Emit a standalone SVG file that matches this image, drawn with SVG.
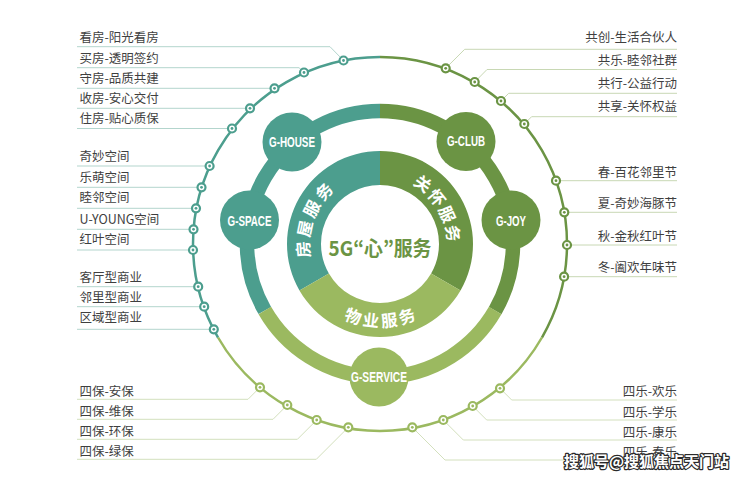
<svg xmlns="http://www.w3.org/2000/svg" xmlns:xlink="http://www.w3.org/1999/xlink" width="740" height="478" viewBox="0 0 740 478">
<style>
.lbl{font-family:"Noto Sans CJK SC","Noto Sans",sans-serif;font-size:12.5px;fill:#3f3f3f}
.r{text-anchor:end}
.lt{fill:none;stroke:#b3d5cd;stroke-width:1}
.lg{fill:none;stroke:#c8d8b4;stroke-width:1}
.ll{fill:none;stroke:#d3e0bd;stroke-width:1}
.nt{font-family:"Liberation Sans",Arial,sans-serif;font-weight:bold;font-size:14.5px;fill:#fff;text-anchor:middle;dominant-baseline:central}
.rt{font-family:"Noto Sans CJK SC",sans-serif;font-weight:bold;font-size:16.5px;fill:#fff;text-anchor:middle;dominant-baseline:central}
.wm{font-family:"Noto Sans CJK SC",sans-serif;font-weight:bold;font-size:15px;fill:#fff;stroke:#2a2a2a;stroke-width:2.4;paint-order:stroke;stroke-linejoin:round}
</style>
<defs>
<g id="dT"><circle r="4" fill="#fff" stroke="#4c9e8e" stroke-width="2.2"/><circle r="1.4" fill="#4c9e8e"/></g>
<g id="dG"><circle r="4" fill="#fff" stroke="#6b9444" stroke-width="2.2"/><circle r="1.4" fill="#6b9444"/></g>
<g id="dL"><circle r="4" fill="#fff" stroke="#9bb960" stroke-width="2.2"/><circle r="1.4" fill="#9bb960"/></g>
</defs>
<rect width="740" height="478" fill="#fff"/>

<!-- connectors: leader lines -->
<g id="connectors">
<polyline class="lt" points="77,46.7 330,46.7 343.5,60.5"/>
<polyline class="lt" points="77,67.7 299,67.7 304,72.5"/>
<polyline class="lt" points="77,88.3 274.5,88.3"/>
<polyline class="lt" points="77,108.3 250,108.3"/>
<polyline class="lt" points="77,128.5 232,128.5"/>
<polyline class="lt" points="77,166 209.6,166"/>
<polyline class="lt" points="77,187.3 201.5,187.3"/>
<polyline class="lt" points="77,208.3 196,208.3"/>
<polyline class="lt" points="77,229.3 193.5,229.3"/>
<polyline class="lt" points="77,250 193,250"/>
<polyline class="lt" points="77,286.7 198.2,286.7"/>
<polyline class="lt" points="77,306.7 204.2,306.7"/>
<polyline class="lt" points="77,329.3 213.8,329.3"/>
<polyline class="ll" points="77,399.3 248,399.3 260,387.3"/>
<polyline class="ll" points="77,419.3 273,419.3 287.3,405"/>
<polyline class="ll" points="77,439.3 297.4,439.3 316.7,420"/>
<polyline class="ll" points="77,459.3 316.3,459.3 348.3,427.3"/>
<polyline class="lg" points="677,49.3 464.7,49.3 445.7,68.3"/>
<polyline class="lg" points="677,69.5 487,69.5 474.7,82"/>
<polyline class="lg" points="677,93.3 508.7,93.3 501,101"/>
<polyline class="lg" points="677,116.7 531.6,116.7 524.3,124"/>
<polyline class="lg" points="677,180.7 556,180.7"/>
<polyline class="lg" points="677,212.3 564.3,212.3"/>
<polyline class="lg" points="677,245 567,245"/>
<polyline class="lg" points="677,276.7 564.1,276.7"/>
<polyline class="ll" points="677,400 511.7,400 500,388.3"/>
<polyline class="ll" points="677,420 486.7,420 472.7,406"/>
<polyline class="ll" points="677,440 463.3,440 443.3,420"/>
<polyline class="ll" points="677,460 445,460 412.3,427.3"/>
</g>

<!-- outer ring -->
<g id="outer-ring" fill="none" stroke-width="2.5">
<path d="M218.05,337.5 A187,187 0 0 1 380,57" stroke="#4c9e8e"/>
<path d="M380,57 A187,187 0 0 1 541.95,337.5" stroke="#6b9444"/>
<path d="M541.95,337.5 A187,187 0 0 1 218.05,337.5" stroke="#9bb960"/>
</g>

<g id="outer-dots">
<use xlink:href="#dT" x="343.5" y="60.5"/>
<use xlink:href="#dT" x="304" y="72.5"/>
<use xlink:href="#dT" x="274.5" y="88.3"/>
<use xlink:href="#dT" x="250" y="108.3"/>
<use xlink:href="#dT" x="232" y="128.5"/>
<use xlink:href="#dT" x="209.6" y="166"/>
<use xlink:href="#dT" x="201.5" y="187.3"/>
<use xlink:href="#dT" x="196" y="208.3"/>
<use xlink:href="#dT" x="193.5" y="229.3"/>
<use xlink:href="#dT" x="193" y="250"/>
<use xlink:href="#dT" x="198.2" y="286.7"/>
<use xlink:href="#dT" x="204.2" y="306.7"/>
<use xlink:href="#dT" x="213.8" y="329.3"/>
<use xlink:href="#dL" x="260" y="387.3"/>
<use xlink:href="#dL" x="287.3" y="405"/>
<use xlink:href="#dL" x="316.7" y="420"/>
<use xlink:href="#dL" x="348.3" y="427.3"/>
<use xlink:href="#dL" x="412.3" y="427.3"/>
<use xlink:href="#dL" x="443.3" y="420"/>
<use xlink:href="#dL" x="472.7" y="406"/>
<use xlink:href="#dL" x="500" y="388.3"/>
<use xlink:href="#dG" x="445.7" y="68.3"/>
<use xlink:href="#dG" x="474.7" y="82"/>
<use xlink:href="#dG" x="501" y="101"/>
<use xlink:href="#dG" x="524.3" y="124"/>
<use xlink:href="#dG" x="556" y="180.7"/>
<use xlink:href="#dG" x="564.3" y="212.3"/>
<use xlink:href="#dG" x="567" y="245"/>
<use xlink:href="#dG" x="564.1" y="276.7"/>
</g>

<!-- labels -->
<g id="labels-left" class="lbl">
<text x="79.5" y="42">看房-阳光看房</text>
<text x="79.5" y="62.7">买房-透明签约</text>
<text x="79.5" y="82.5">守房-品质共建</text>
<text x="79.5" y="102.7">收房-安心交付</text>
<text x="79.5" y="122.7">住房-贴心质保</text>
<text x="79.5" y="160.8">奇妙空间</text>
<text x="79.5" y="181.5">乐萌空间</text>
<text x="79.5" y="202">睦邻空间</text>
<text x="79.5" y="224">U-YOUNG空间</text>
<text x="79.5" y="244">红叶空间</text>
<text x="79.5" y="281.7">客厅型商业</text>
<text x="79.5" y="301.5">邻里型商业</text>
<text x="79.5" y="321.5">区域型商业</text>
<text x="79.5" y="395.8">四保-安保</text>
<text x="79.5" y="416">四保-维保</text>
<text x="79.5" y="435.8">四保-环保</text>
<text x="79.5" y="455.8">四保-绿保</text>
</g>
<g id="labels-right" class="lbl r">
<text x="677" y="42">共创-生活合伙人</text>
<text x="677" y="65.3">共乐-睦邻社群</text>
<text x="677" y="87.6">共行-公益行动</text>
<text x="677" y="111">共享-关怀权益</text>
<text x="677" y="177.3">春-百花邻里节</text>
<text x="677" y="208">夏-奇妙海豚节</text>
<text x="677" y="240.8">秋-金秋红叶节</text>
<text x="677" y="272">冬-阖欢年味节</text>
<text x="677" y="395.5">四乐-欢乐</text>
<text x="677" y="416.5">四乐-学乐</text>
<text x="677" y="436.5">四乐-康乐</text>
<text x="677" y="456.5">四乐-春乐</text>
</g>

<!-- middle ring -->
<g id="middle-ring" fill="none" stroke-width="14.5">
<path d="M264.82,310.5 A133,133 0 0 1 380,111" stroke="#4c9e8e"/>
<path d="M380,111 A133,133 0 0 1 495.18,310.5" stroke="#6b9444"/>
<path d="M495.18,310.5 A133,133 0 0 1 264.82,310.5" stroke="#9bb960"/>
</g>

<!-- inner ring -->
<g id="inner-ring">
<path d="M299.46,290.5 A93,93 0 0 1 380,151 L380,185 A59,59 0 0 0 328.9,273.5 Z" fill="#4c9e8e"/>
<path d="M380,151 A93,93 0 0 1 460.54,290.5 L431.1,273.5 A59,59 0 0 0 380,185 Z" fill="#6b9444"/>
<path d="M460.54,290.5 A93,93 0 0 1 299.46,290.5 L328.9,273.5 A59,59 0 0 0 431.1,273.5 Z" fill="#9bb960"/>
<g class="rt">
<text transform="translate(302.5,249.4) rotate(266)">房</text>
<text transform="translate(304,228.4) rotate(281.7)">屋</text>
<text transform="translate(311.2,208.4) rotate(297.4)">服</text>
<text transform="translate(323.5,191.3) rotate(313)">务</text>
<text transform="translate(423.3,183.2) rotate(35.5)">关</text>
<text transform="translate(437.3,197.2) rotate(50.8)">怀</text>
<text transform="translate(447.7,214) rotate(66.1)">服</text>
<text transform="translate(453.7,233) rotate(81.4)">务</text>
<text transform="translate(353.5,315.5) rotate(20.5)">物</text>
<text transform="translate(371,319.5) rotate(6.8)">业</text>
<text transform="translate(389,319.5) rotate(-6.8)">服</text>
<text transform="translate(406.5,315.5) rotate(-20.5)">务</text>
</g>
</g>

<g id="center">
<text x="380" y="246.7" text-anchor="middle" dominant-baseline="central" font-family="Noto Sans CJK JP, sans-serif" font-weight="bold" font-size="20.5" fill="#6b9444" textLength="103" lengthAdjust="spacingAndGlyphs">5G“心”服务</text>
</g>

<!-- nodes -->
<g id="g-house"><circle cx="292" cy="142" r="29.5" fill="#4c9e8e"/><text class="nt" x="292" y="141.7" textLength="46" lengthAdjust="spacingAndGlyphs">G-HOUSE</text></g>
<g id="g-club"><circle cx="466" cy="141.5" r="29.5" fill="#6b9444"/><text class="nt" x="466" y="141" textLength="38" lengthAdjust="spacingAndGlyphs">G-CLUB</text></g>
<g id="g-space"><circle cx="249.5" cy="220" r="29.5" fill="#4c9e8e"/><text class="nt" x="249.5" y="220.5" textLength="44" lengthAdjust="spacingAndGlyphs">G-SPACE</text></g>
<g id="g-joy"><circle cx="511" cy="220" r="29.5" fill="#6b9444"/><text class="nt" x="511" y="220.5" textLength="30" lengthAdjust="spacingAndGlyphs">G-JOY</text></g>
<g id="g-service"><circle cx="379" cy="377" r="29.5" fill="#9bb960"/><text class="nt" x="379" y="377" textLength="56" lengthAdjust="spacingAndGlyphs">G-SERVICE</text></g>

<text class="wm" x="564" y="467">搜狐号@搜狐焦点天门站</text>
</svg>
